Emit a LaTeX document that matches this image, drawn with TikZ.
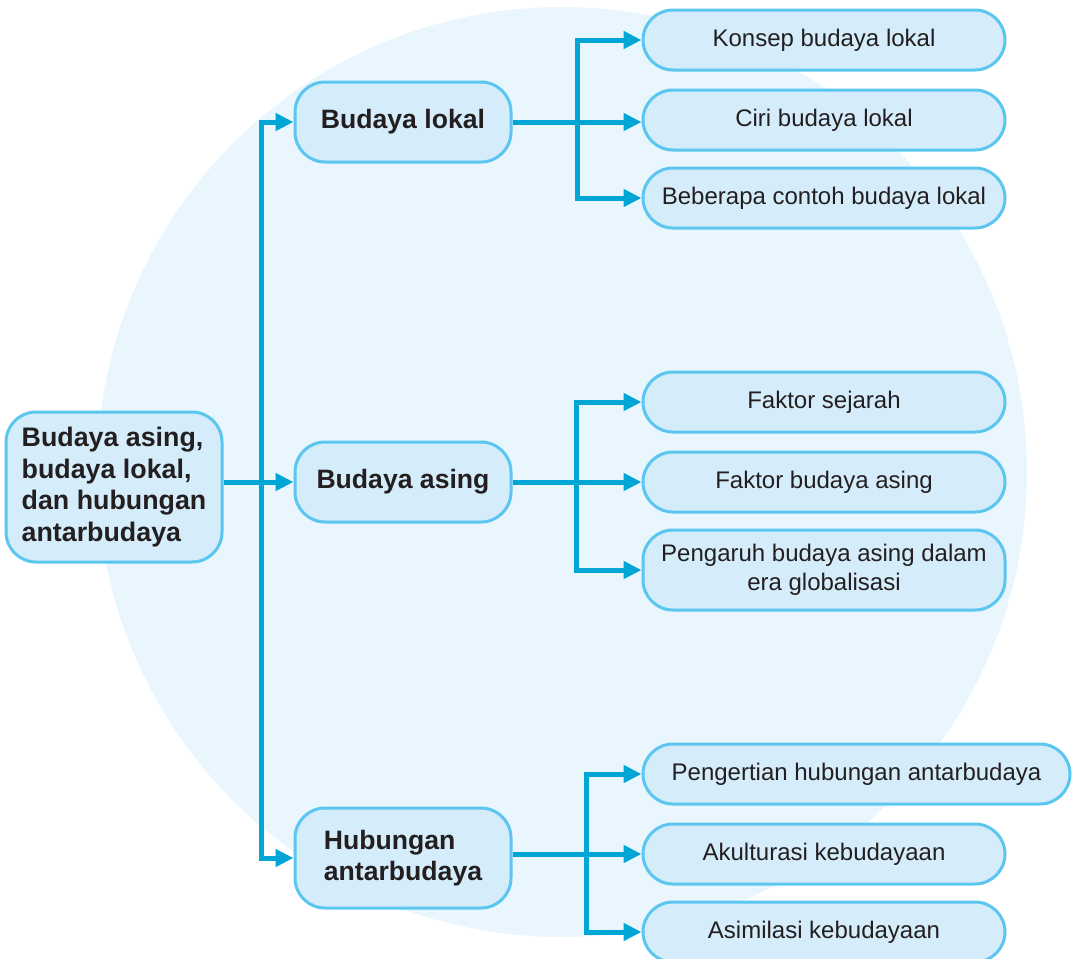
\documentclass[tikz,border=0pt]{standalone}
\usepackage{fontspec}
\setsansfont{Liberation Sans}
\usetikzlibrary{arrows.meta}
\definecolor{disc}{HTML}{EAF6FD}
\definecolor{boxfill}{HTML}{D5ECFA}
\definecolor{boxline}{HTML}{5BC6EF}
\definecolor{wire}{HTML}{00A6D6}
\definecolor{ink}{HTML}{231F20}
\begin{document}
\begin{tikzpicture}[x=1pt,y=-1pt,
  box/.style={draw=boxline, fill=boxfill, line width=3pt, rounded corners=30pt,
    inner sep=0pt, text=ink, font=\sffamily},
  rootbox/.style={box, minimum width=216pt, minimum height=150pt, align=left,
    font=\sffamily\bfseries\fontsize{26.8}{31.5}\selectfont},
  topicbox/.style={box, minimum width=216pt, minimum height=80pt, align=left,
    font=\sffamily\bfseries\fontsize{26.6}{31}\selectfont},
  itembox/.style={box, minimum width=362pt, minimum height=60pt, align=center,
    font=\sffamily\fontsize{24}{28.5}\selectfont},
  wireline/.style={draw=wire, line width=5pt},
  tip/.style={-{Triangle[length=18pt,width=17pt]}},
  tips/.style={{Triangle[length=18pt,width=17pt]}-{Triangle[length=18pt,width=17pt]}}
]
\useasboundingbox (0,0) rectangle (1072,959);
\fill[disc] (562,472) circle (465pt);

% root
\node[rootbox] (root) at (114,487) {Budaya asing,\\budaya lokal,\\dan hubungan\\antarbudaya};

% topics
\node[topicbox] (lok) at (403,122) {Budaya lokal};
\node[topicbox] (asg) at (403,482) {Budaya asing};
\node[topicbox, minimum height=100pt] (hub) at (403,858) {Hubungan\\antarbudaya};

% items for Budaya lokal
\node[itembox] (k1) at (824,40) {Konsep budaya lokal};
\node[itembox] (k2) at (824,120) {Ciri budaya lokal};
\node[itembox] (k3) at (824,198) {Beberapa contoh budaya lokal};

% items for Budaya asing
\node[itembox] (a1) at (824,402) {Faktor sejarah};
\node[itembox] (a2) at (824,482) {Faktor budaya asing};
\node[itembox, minimum height=80pt] (a3) at (824,570) {Pengaruh budaya asing dalam\\era globalisasi};

% items for Hubungan antarbudaya
\node[itembox, minimum width=427pt] (h1) at (856.5,774) {Pengertian hubungan antarbudaya};
\node[itembox] (h2) at (824,854) {Akulturasi kebudayaan};
\node[itembox] (h3) at (824,932) {Asimilasi kebudayaan};

% trunk lines
\coordinate (tr) at (261,0);
\coordinate (sl) at (577,0);
\coordinate (sa) at (576,0);
\coordinate (sh) at (586,0);

\draw[wireline, tips] (lok.west) -- (tr |- lok.west) -- (tr |- hub.west) -- (hub.west);
\draw[wireline, tip] (root.east |- asg.west) -- (asg.west);

\draw[wireline, tips] (k1.west) -- (sl |- k1.west) -- (sl |- k3.west) -- (k3.west);
\draw[wireline, tip] (lok.east) -- (k2.west |- lok.east);

\draw[wireline, tips] (a1.west) -- (sa |- a1.west) -- (sa |- a3.west) -- (a3.west);
\draw[wireline, tip] (asg.east) -- (a2.west);

\draw[wireline, tips] (h1.west) -- (sh |- h1.west) -- (sh |- h3.west) -- (h3.west);
\draw[wireline, tip] (hub.east |- h2.west) -- (h2.west);
\end{tikzpicture}
\end{document}
